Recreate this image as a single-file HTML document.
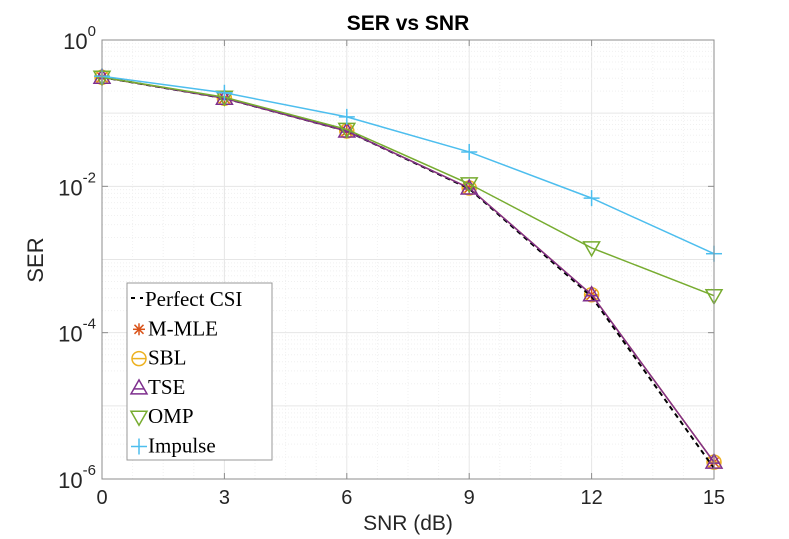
<!DOCTYPE html>
<html><head><meta charset="utf-8"><style>
body{margin:0;background:#fff;width:789px;height:539px;overflow:hidden}
svg{display:block}
.ax{font-family:"Liberation Sans",sans-serif;fill:#262626}
.lg{font-family:"Liberation Serif",serif;font-size:21px;fill:#000}
</style></head><body>
<svg id="chart" width="789" height="539">
<g id="grid"></g>
<g id="series"></g>
<g id="axes"></g>
<text x="408" y="30" text-anchor="middle" font-family="Liberation Sans,sans-serif" font-weight="bold" font-size="21">SER vs SNR</text>
<text x="408" y="530" text-anchor="middle" class="ax" font-size="21">SNR (dB)</text>
<text transform="translate(43,260) rotate(-90)" text-anchor="middle" class="ax" font-size="22">SER</text>
<g id="legend"></g>
</svg>
<script>
const snr=[0,3,6,9,12,15];
const xTicks=[0,3,6,9,12,15];
const yTickExp=[0,-2,-4,-6];
const perfect=[0.31,0.16,0.057,0.0093,0.00031,0.0000014];
const mmle=[0.31,0.16,0.057,0.0095,0.00033,0.0000017];
const sbl=[0.31,0.16,0.057,0.0095,0.00033,0.0000017];
const tse=[0.31,0.16,0.057,0.0095,0.00033,0.0000017];
const omp=[0.31,0.165,0.06,0.0108,0.00144,0.00032];
const impulse=[0.32,0.19,0.089,0.0295,0.0069,0.0012];
const L=102,R=714,T=40,B=479;
const X=v=>L+(v-0)/(15-0)*(R-L);
const Y=v=>T+(0-Math.log10(v))/6*(B-T);
const NS="http://www.w3.org/2000/svg";
function mk(tag,attrs,parent){const e=document.createElementNS(NS,tag);for(const k in attrs)e.setAttribute(k,attrs[k]);parent.appendChild(e);return e;}
const grid=document.getElementById('grid'),axes=document.getElementById('axes'),ser=document.getElementById('series'),leg=document.getElementById('legend');
mk('rect',{x:L,y:T,width:R-L,height:B-T,fill:'#fff'},grid);
for(let v=0;v<=15;v+=0.75){const x=X(v);const major=xTicks.includes(v);
 const g=mk('line',{x1:x,x2:x,y1:T,y2:B,stroke:major?'#e6e6e6':'#f0f0f0','stroke-width':1,'stroke-dasharray':major?'none':'1,2'},grid);
 }
for(let e=-6;e<0;e++){for(let m=1;m<10;m++){const y=Y(m*Math.pow(10,e));
 const g=mk('line',{x1:L,x2:R,y1:y,y2:y,stroke:m==1?'#e6e6e6':'#f0f0f0','stroke-dasharray':m==1?'none':'1,2'},grid);
 }}
mk('rect',{x:L,y:T,width:R-L,height:B-T,fill:'none',stroke:'#8c8c8c','stroke-width':1},axes);
xTicks.forEach(v=>{const x=X(v);mk('line',{x1:x,x2:x,y1:B,y2:B-6,stroke:'#8c8c8c'},axes);mk('line',{x1:x,x2:x,y1:T,y2:T+6,stroke:'#8c8c8c'},axes);
 const t=mk('text',{x:x,y:B+25,'text-anchor':'middle',class:'ax','font-size':20},axes);t.textContent=v;
 });
yTickExp.forEach(e=>{const y=Y(Math.pow(10,e));mk('line',{x1:L,x2:L+6,y1:y,y2:y,stroke:'#8c8c8c'},axes);mk('line',{x1:R,x2:R-6,y1:y,y2:y,stroke:'#8c8c8c'},axes);
 const t=mk('text',{x:L-6,y:y+9,'text-anchor':'end',class:'ax','font-size':22},axes);
 
 const a=document.createElementNS(NS,'tspan');a.textContent='10';t.appendChild(a);
 const b=document.createElementNS(NS,'tspan');b.setAttribute('dy','-13');b.setAttribute('font-size','15');b.textContent=e;t.appendChild(b);});
function marker(type,x,y,c,p){
 if(type=='star'){[[0,-6,0,6],[-6,0,6,0],[-4.5,-4.5,4.5,4.5],[-4.5,4.5,4.5,-4.5]].forEach(s=>mk('line',{x1:x+s[0],y1:y+s[1],x2:x+s[2],y2:y+s[3],stroke:c,'stroke-width':1.5},p));}
 else if(type=='circ'){mk('circle',{cx:x,cy:y,r:7,fill:'none',stroke:c,'stroke-width':1.5},p);mk('line',{x1:x-7,x2:x+7,y1:y,y2:y,stroke:c,'stroke-width':1.5},p);}
 else if(type=='tri'){mk('path',{d:`M${x},${y-8}L${x+8},${y+6}L${x-8},${y+6}Z`,fill:'none',stroke:c,'stroke-width':1.5},p);mk('line',{x1:x-5,x2:x+5,y1:y+1,y2:y+1,stroke:c,'stroke-width':1.5},p);}
 else if(type=='dtri'){mk('path',{d:`M${x},${y+8}L${x+8},${y-6}L${x-8},${y-6}Z`,fill:'none',stroke:c,'stroke-width':1.5},p);}
 else if(type=='plus'){mk('line',{x1:x-8,x2:x+8,y1:y,y2:y,stroke:c,'stroke-width':1.5},p);mk('line',{x1:x,x2:x,y1:y-8,y2:y+8,stroke:c,'stroke-width':1.5},p);}
}
const defs=[
 {name:'Perfect CSI',d:perfect,c:'#000',m:null,dash:'5,4',id:'series-perfect-csi'},
 {name:'M-MLE',d:mmle,c:'#d95319',m:'star',id:'series-m-mle'},
 {name:'SBL',d:sbl,c:'#edb120',m:'circ',id:'series-sbl'},
 {name:'TSE',d:tse,c:'#7e2f8e',m:'tri',id:'series-tse'},
 {name:'OMP',d:omp,c:'#77ac30',m:'dtri',id:'series-omp'},
 {name:'Impulse',d:impulse,c:'#4dbeee',m:'plus',id:'series-impulse'}];
const order=[1,2,0,3,4,5];
order.forEach(i=>{const s=defs[i];const g=mk('g',{},ser);
 
 const pts=snr.map((v,k)=>X(v)+','+Y(s.d[k])).join(' ');
 mk('polyline',{points:pts,fill:'none',stroke:s.c,'stroke-width':s.m?1.5:2,'stroke-dasharray':s.dash||'none'},g);
 if(s.m)snr.forEach((v,k)=>marker(s.m,X(v),Y(s.d[k]),s.c,g));});
mk('rect',{x:127,y:283,width:145,height:177,fill:'#fff',stroke:'#999'},leg);
defs.forEach((s,i)=>{const y=297+i*29.3;const g=mk('g',{},leg);
 
 if(s.m)marker(s.m,139,y+3,s.c,g);else{mk('line',{x1:131,x2:135,y1:y+1,y2:y+1,stroke:'#000','stroke-width':2},g);mk('line',{x1:140,x2:143,y1:y+1,y2:y+1,stroke:'#000','stroke-width':2},g);}
 const t=mk('text',{x:s.m?148:145,y:y+9,class:'lg'},g);t.textContent=s.name;});
</script>
</body></html>
